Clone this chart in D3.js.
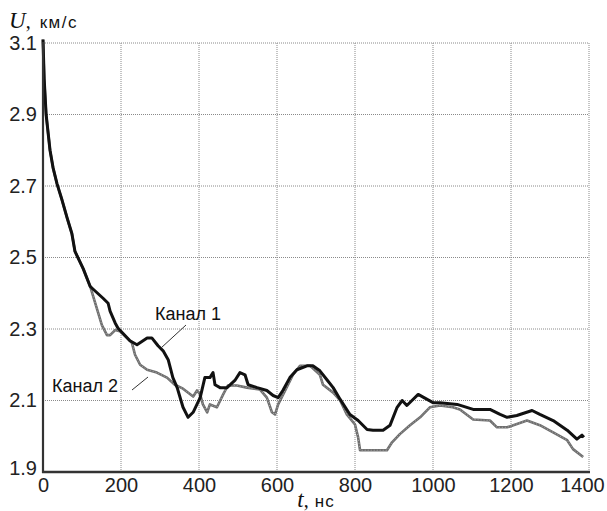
<!DOCTYPE html>
<html><head><meta charset="utf-8">
<script src="https://cdn.jsdelivr.net/npm/d3@7"></script>
<style>body{margin:0;background:#fff}svg{display:block}</style>
</head><body>
<script>
const xTicks = [0, 200, 400, 600, 800, 1000, 1200, 1400];
const yTicks = [1.9, 2.1, 2.3, 2.5, 2.7, 2.9, 3.1];

const ch1T = [0,3,8,18,26,36,49,62,74,82,103,121,126,154,167,172,185,192,223,241,267,279,295,308,321,333,344,359,372,385,403,415,428,436,441,454,472,492,505,518,526,549,574,590,603,615,633,651,677,692,710,728,744,762,787,808,831,846,872,890,908,921,933,946,962,985,1000,1018,1062,1103,1146,1172,1190,1215,1254,1274,1308,1344,1369,1382,1387];
const ch1U = [3.11,3.00,2.90,2.80,2.750,2.706,2.660,2.610,2.567,2.517,2.469,2.419,2.414,2.386,2.372,2.35,2.317,2.303,2.267,2.256,2.275,2.275,2.253,2.239,2.214,2.164,2.136,2.081,2.053,2.067,2.108,2.164,2.164,2.178,2.144,2.136,2.136,2.156,2.178,2.172,2.144,2.136,2.128,2.114,2.108,2.128,2.164,2.186,2.197,2.197,2.183,2.158,2.136,2.103,2.061,2.044,2.019,2.017,2.017,2.031,2.081,2.10,2.086,2.10,2.117,2.103,2.094,2.094,2.089,2.075,2.075,2.061,2.053,2.058,2.072,2.061,2.044,2.017,1.992,2.003,1.997];

const ch2T = [0,3,8,18,26,36,49,62,74,82,103,121,138,151,164,172,185,197,215,228,236,249,267,292,318,338,359,385,395,403,410,421,428,446,462,474,497,523,556,574,587,595,603,621,641,659,685,710,718,744,762,779,800,808,813,831,882,895,915,941,967,992,1018,1051,1069,1103,1146,1164,1190,1241,1274,1308,1344,1359,1385];
const ch2U = [3.11,3.00,2.90,2.80,2.750,2.706,2.660,2.610,2.567,2.517,2.469,2.419,2.358,2.311,2.283,2.283,2.297,2.294,2.275,2.261,2.228,2.20,2.186,2.178,2.164,2.144,2.133,2.111,2.128,2.117,2.089,2.067,2.089,2.081,2.117,2.142,2.142,2.136,2.131,2.108,2.067,2.061,2.089,2.128,2.172,2.197,2.197,2.172,2.144,2.122,2.10,2.061,2.033,1.997,1.961,1.961,1.961,1.983,2.006,2.031,2.053,2.081,2.086,2.081,2.075,2.047,2.044,2.025,2.025,2.044,2.031,2.011,1.989,1.964,1.942];

const W = 607, H = 511;
const svg = d3.select("body").append("svg").attr("width", W).attr("height", H);
const x = d3.scaleLinear().domain([0, 1400]).range([43, 589]);
const y = d3.scaleLinear().domain([1.9, 3.1]).range([472, 43]);
const sans = "'Liberation Sans', Arial, sans-serif";
const serif = "'Liberation Serif', 'Times New Roman', serif";

// grid
const g = svg.append("g");
g.selectAll(".vg").data(xTicks.slice(1)).enter().append("line")
  .attr("x1", d => x(d)).attr("x2", d => x(d)).attr("y1", y(3.1)).attr("y2", y(1.9))
  .attr("stroke", "#8a8a8a").attr("stroke-width", 1).attr("stroke-dasharray", "1,1");
g.selectAll(".hg").data(yTicks.slice(1)).enter().append("line")
  .attr("x1", x(0)).attr("x2", x(1400)).attr("y1", d => y(d)).attr("y2", d => y(d))
  .attr("stroke", "#8a8a8a").attr("stroke-width", 1).attr("stroke-dasharray", "1,1");

// axes
const xAxis = d3.axisBottom(x).tickValues(xTicks).tickSize(0).tickPadding(6).tickFormat(d3.format("d"));
const yAxis = d3.axisLeft(y).tickValues(yTicks).tickSize(0).tickPadding(6).tickFormat(d3.format(".1f"));
const gx = svg.append("g").attr("transform", `translate(0,${y(1.9)})`).call(xAxis);
const gy = svg.append("g").attr("transform", `translate(${x(0)},0)`).call(yAxis);
[gx, gy].forEach(a => {
  a.select(".domain").remove();
  a.selectAll("text").attr("font-family", sans).attr("font-size", 20).attr("fill", "#222");
});
gx.selectAll("text").filter(d => d === 1400).attr("dx", -7);
gy.selectAll("text").filter(d => d === 1.9).attr("dy", "0.1em");

const line = d3.line().x(d => x(d[0])).y(d => y(d[1]));
const d2 = ch2T.map((t, i) => [t, ch2U[i]]);
const d1 = ch1T.map((t, i) => [t, ch1U[i]]);
svg.append("path").datum(d2).attr("d", line).attr("fill", "none")
  .attr("stroke", "#6e6e6e").attr("stroke-width", 2.6).attr("stroke-linejoin", "round");
svg.append("path").datum(d2).attr("d", line).attr("fill", "none")
  .attr("stroke", "#bdbdbd").attr("stroke-width", 0.8).attr("stroke-dasharray", "1,2");
svg.append("path").datum(d1).attr("d", line).attr("fill", "none")
  .attr("stroke", "#111").attr("stroke-width", 3).attr("stroke-linejoin", "round");

// axis lines
svg.append("line").attr("x1", x(0)).attr("x2", x(0)).attr("y1", y(3.1) - 1).attr("y2", y(1.9) + 1)
  .attr("stroke", "#333").attr("stroke-width", 2.2);
svg.append("line").attr("x1", x(0) - 1).attr("x2", x(1400) + 1).attr("y1", y(1.9)).attr("y2", y(1.9))
  .attr("stroke", "#333").attr("stroke-width", 2.5);

// annotations
svg.append("text").attr("x", 155).attr("y", 320).attr("font-family", sans).attr("font-size", 18)
  .attr("fill", "#111").text("Канал 1");
svg.append("line").attr("x1", 186).attr("y1", 325).attr("x2", 161).attr("y2", 348)
  .attr("stroke", "#333").attr("stroke-width", 1);
svg.append("text").attr("x", 52).attr("y", 392).attr("font-family", sans).attr("font-size", 18)
  .attr("fill", "#111").text("Канал 2");
svg.append("line").attr("x1", 132).attr("y1", 390).attr("x2", 148).attr("y2", 377)
  .attr("stroke", "#333").attr("stroke-width", 1);

// axis titles
const yt = svg.append("text").attr("x", 9).attr("y", 28).attr("fill", "#111");
yt.append("tspan").attr("font-family", serif).attr("font-style", "italic").attr("font-size", 23).text("U");
yt.append("tspan").attr("font-family", serif).attr("font-size", 20).text(",");
yt.append("tspan").attr("font-family", sans).attr("font-size", 17).attr("dx", 9)
  .attr("letter-spacing", 1.5).text("км/с");

const xt = svg.append("text").attr("x", x(700)).attr("y", 507).attr("text-anchor", "middle").attr("fill", "#111");
xt.append("tspan").attr("font-family", serif).attr("font-style", "italic").attr("font-size", 23).text("t");
xt.append("tspan").attr("font-family", serif).attr("font-size", 20).text(",");
xt.append("tspan").attr("font-family", sans).attr("font-size", 17).attr("dx", 6)
  .attr("letter-spacing", 1).text("нс");
</script>
</body></html>
